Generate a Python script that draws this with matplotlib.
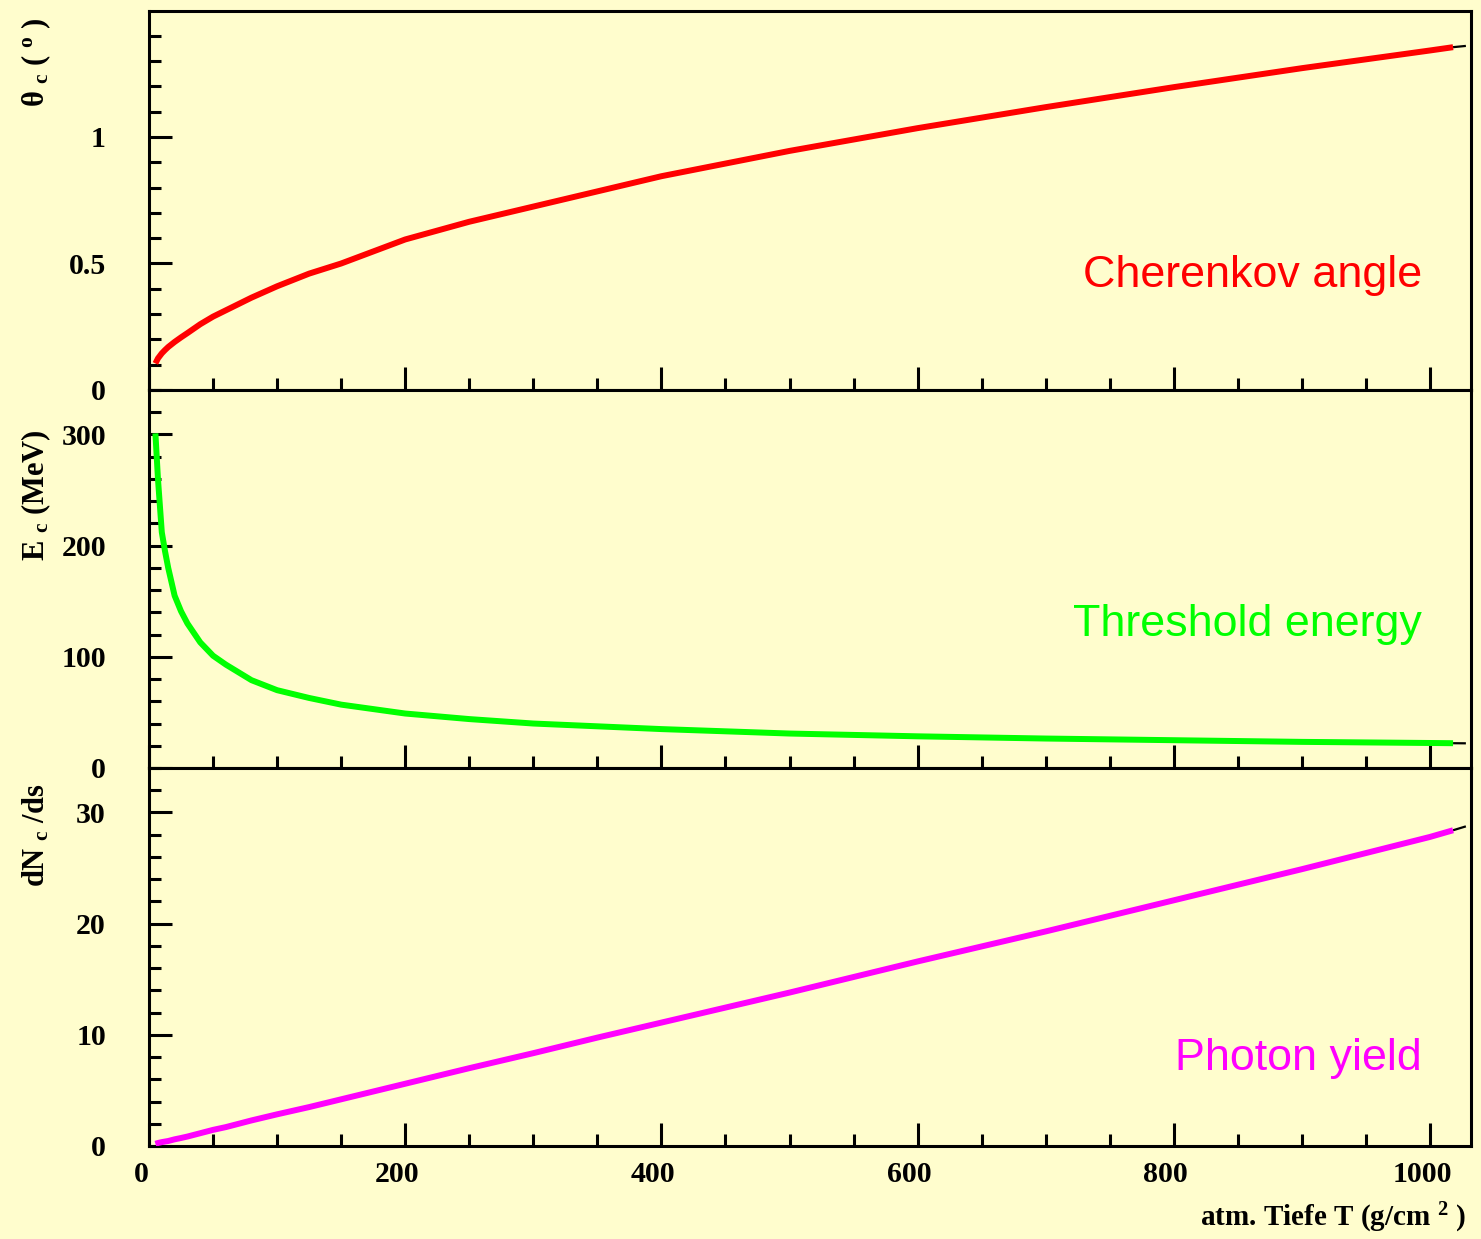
import matplotlib
matplotlib.use("Agg")
import matplotlib.pyplot as plt
from matplotlib.ticker import MultipleLocator
import matplotlib.transforms as mtransforms

# ---------------- data ----------------
depth = [5, 7, 10, 12.5, 15, 20, 25, 30, 40, 50, 60, 80, 100, 125, 150, 200,
         250, 300, 350, 400, 500, 600, 700, 800, 900, 1000, 1018]
depth_tail = [1018, 1028]

cherenkov_angle = [0.105, 0.125, 0.145, 0.158, 0.17, 0.19, 0.208, 0.225, 0.26,
                   0.29, 0.315, 0.365, 0.41, 0.46, 0.50, 0.595, 0.665, 0.725,
                   0.785, 0.845, 0.945, 1.035, 1.118, 1.197, 1.272, 1.342, 1.355]
angle_tail = [1.355, 1.36]

threshold_energy = [301, 260, 212, 195, 180, 155, 141, 130, 113, 101, 93, 79,
                    70, 63, 57, 49, 44, 40, 37.5, 35, 31, 28.5, 26.5, 25, 23.5,
                    22.5, 22.3]
energy_tail = [22.3, 22.2]

photon_yield = [0.2, 0.27, 0.35, 0.4, 0.45, 0.6, 0.72, 0.85, 1.15, 1.45, 1.7,
                2.3, 2.85, 3.5, 4.2, 5.6, 7.0, 8.35, 9.75, 11.1, 13.8, 16.6,
                19.3, 22.1, 24.9, 27.8, 28.4]
yield_tail = [28.4, 28.75]

panel_labels = ["Cherenkov angle", "Threshold energy", "Photon yield"]
panel_colors = ["#ff0000", "#00ff00", "#ff00ff"]
y_titles = [r"θ $_{c}$ ( $^{o}$ )", r"E $_{c}$ (MeV)", r"dN $_{c}$ /ds"]
x_title = r"atm. Tiefe T (g/cm $^{2}$ )"

# ---------------- style ----------------
W, H = 1481, 1239
BG = "#fffdcd"
plt.rcParams["font.family"] = ["Liberation Serif", "DejaVu Serif"]
plt.rcParams["font.weight"] = "bold"
plt.rcParams["mathtext.fontset"] = "custom"
plt.rcParams["mathtext.rm"] = "Liberation Serif:bold"
plt.rcParams["mathtext.it"] = "Liberation Serif:bold"
plt.rcParams["mathtext.bf"] = "Liberation Serif:bold"

fig = plt.figure(figsize=(W / 100, H / 100), dpi=100, facecolor=BG)


def fx(px):
    return px / W


def fy(py):
    return 1 - py / H


left, right = 149, 1471
tops = [11, 390, 768]
bots = [390, 768, 1146]

series = [
    (cherenkov_angle, angle_tail, (0, 1.498), 0.5, 0.1),
    (threshold_energy, energy_tail, (0, 340), 100, 20),
    (photon_yield, yield_tail, (0, 34), 10, 2),
]
label_baselines = [287, 636, 1070]
ytitle_tops = [17, 430, 784]

axes = []
for i, (vals, tail, ylim, maj, mnr) in enumerate(series):
    ax = fig.add_axes([fx(left), fy(bots[i]), fx(right - left),
                       (bots[i] - tops[i]) / H])
    ax.set_facecolor(BG)
    ax.plot(depth_tail, tail, color="black", lw=1.6, solid_capstyle="butt",
            zorder=2)
    ax.plot(depth, vals, color=panel_colors[i], lw=4.3, solid_capstyle="butt",
            zorder=3)
    ax.set_xlim(0, 1032)
    ax.set_ylim(*ylim)
    ax.xaxis.set_major_locator(MultipleLocator(200))
    ax.xaxis.set_minor_locator(MultipleLocator(50))
    ax.yaxis.set_major_locator(MultipleLocator(maj))
    ax.yaxis.set_minor_locator(MultipleLocator(mnr))
    ax.tick_params(which="both", direction="in", top=False, right=False,
                   width=2.2, color="black")
    ax.tick_params(which="major", length=16.5)
    ax.tick_params(which="minor", length=8.5)
    ax.tick_params(axis="y", which="major", pad=31, labelsize=21.5)
    ax.tick_params(axis="x", which="major", pad=11, labelsize=21.5)
    for sp in ax.spines.values():
        sp.set_linewidth(2.2)
    ax.yaxis.set_major_formatter(plt.FuncFormatter(lambda v, p: f"{v:g}"))
    if i < 2:
        ax.tick_params(axis="x", labelbottom=False)
    else:
        offset = mtransforms.ScaledTranslation(-8 / 100, 0, fig.dpi_scale_trans)
        for lab in ax.get_xticklabels():
            lab.set_transform(lab.get_transform() + offset)
    for lab in ax.get_yticklabels() + ax.get_xticklabels():
        lab.set_fontweight("bold")

    fig.text(fx(1422), fy(label_baselines[i]), panel_labels[i],
             color=panel_colors[i], fontsize=32.3, ha="right", va="baseline",
             family=["Liberation Sans", "DejaVu Sans"], fontweight="normal")
    fig.text(fx(36), fy(ytitle_tops[i]), y_titles[i], rotation=90,
             ha="center", va="top", fontsize=22, fontweight="bold")
    axes.append(ax)

fig.text(fx(1466), fy(1218), x_title, ha="right", va="center", fontsize=21,
         fontweight="bold")

fig.savefig("out.png", dpi=100, facecolor=BG)
